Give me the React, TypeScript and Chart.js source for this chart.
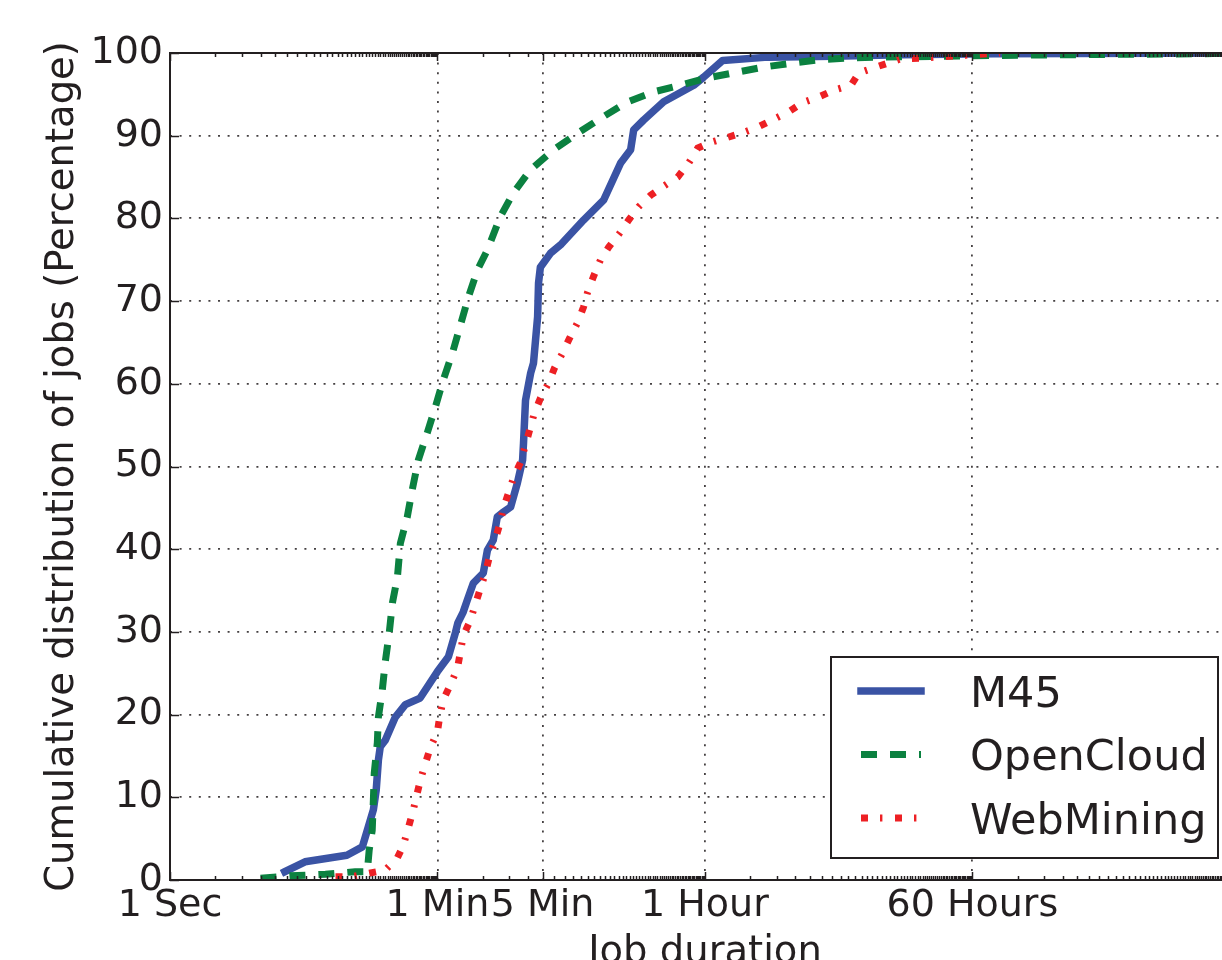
import React, { useEffect, useRef } from 'react';
import { Chart, registerables } from 'chart.js';

Chart.register(...registerables);

const FONT = '"DejaVu Sans", "Bitstream Vera Sans", sans-serif';
const INK = '#231f20';

// Job duration axis, in seconds on a log scale
const xMinSeconds = 1;
const xMaxSeconds = 1.3e7;
const majorTickSeconds = [1, 60, 300, 3600, 216000];
const majorTickLabels = ['1 Sec', '1 Min', '5 Min', '1 Hour', '60 Hours'];

// Percentage axis
const yMin = 0;
const yMax = 100;
const yStep = 10;

const xTitle = 'Job duration';
const yTitle = 'Cumulative distribution of jobs (Percentage)';

const seriesNames = ['M45', 'OpenCloud', 'WebMining'];
const seriesColors = ['#3a53a4', '#0b8140', '#ed2024'];

const m45Seconds = [5.8, 7.9, 15, 19, 20.8, 22.5, 23.5, 24.3, 25, 27, 31.5, 36.7, 46, 60, 71, 79, 82, 89, 95, 104, 121, 129, 141, 150, 162, 184, 204, 221, 224, 231, 250, 261, 278, 282, 290, 339, 400, 562, 763, 991, 1155, 1210, 1410, 1915, 3034, 3540, 4730, 9440, 25900, 72400, 300000, 13000000];
const m45Percent = [1.0, 2.2, 3.0, 4.0, 6.4, 8.5, 10.9, 14.5, 16.1, 16.9, 19.7, 21.2, 22.0, 25.2, 27.0, 29.9, 31.1, 32.4, 33.9, 35.9, 37.1, 39.9, 41.1, 43.9, 44.4, 45.1, 48.0, 50.8, 52.8, 58.0, 61.3, 62.5, 68.1, 72.2, 74.1, 75.8, 76.9, 79.8, 82.2, 86.7, 88.3, 90.7, 91.9, 94.1, 96.1, 97.1, 99.1, 99.5, 99.6, 99.8, 99.9, 100];

const openCloudSeconds = [4.0, 6.3, 10.8, 17, 20.5, 21.1, 22.1, 22.5, 22.8, 23.9, 24.3, 25.8, 27.0, 28.7, 30.1, 32.5, 34.0, 37.8, 40.8, 44.8, 51.4, 58.1, 65.7, 75.4, 85.3, 96.4, 111, 129, 157, 192, 250, 355, 513, 729, 1104, 1643, 2484, 3760, 5960, 8870, 14060, 21300, 32100, 53300, 300000, 1000000, 6800000, 13000000];
const openCloudPercent = [0.2, 0.5, 0.7, 1.0, 1.0, 3.6, 6.0, 9.7, 12.9, 16.6, 19.7, 23.0, 26.4, 29.9, 33.5, 36.6, 40.7, 43.9, 47.2, 50.8, 54.1, 57.2, 60.5, 63.7, 67.1, 70.5, 73.8, 76.2, 80.2, 83.1, 85.9, 88.3, 90.3, 92.1, 94.1, 95.3, 96.1, 97.0, 97.7, 98.3, 98.8, 99.2, 99.4, 99.5, 99.7, 99.8, 99.9, 100];

const webMiningSeconds = [12.6, 16.3, 20.8, 27.0, 32.5, 35.6, 38.4, 41.5, 46.2, 49.9, 53.8, 60, 62, 65.7, 73.1, 81.5, 89.3, 99.4, 107, 116, 125, 133, 144, 155, 165, 178, 192, 214, 231, 246, 265, 291, 329, 360, 407, 453, 513, 562, 598, 655, 729, 824, 975, 1120, 1305, 1570, 1915, 2373, 2810, 3226, 3940, 5100, 6530, 8220, 10350, 13000, 16100, 20600, 25900, 33700, 38100, 49400, 62200, 72400, 103000, 182000, 330000];
const webMiningPercent = [0.4, 0.4, 0.8, 1.2, 2.7, 4.2, 6.3, 8.5, 12.1, 14.1, 16.0, 17.9, 19.7, 21.8, 23.6, 25.6, 29.6, 31.4, 33.3, 35.3, 37.1, 39.1, 40.9, 42.9, 45.0, 46.8, 48.6, 50.5, 52.6, 54.4, 56.5, 58.3, 60.1, 61.9, 63.7, 65.5, 67.4, 69.3, 71.1, 73.0, 75.0, 76.5, 78.2, 79.8, 81.4, 82.8, 83.9, 85.0, 86.7, 88.5, 89.2, 89.8, 90.4, 91.1, 92.0, 92.9, 94.0, 94.7, 95.5, 96.1, 97.6, 98.3, 98.9, 99.3, 99.4, 99.7, 100];

const toPoints = (xs: number[], ys: number[]) => xs.map((x, i) => ({ x, y: ys[i] }));

// Minor ticks: every second up to a minute, every minute up to an hour,
// every hour up to 60 hours, then every 60 hours.
function buildMinorTicks(max: number): number[] {
  const out: number[] = [];
  for (let s = 2; s < 60; s++) out.push(s);
  for (let m = 2; m < 60; m++) if (m !== 5) out.push(m * 60);
  for (let h = 2; h < 60; h++) out.push(h * 3600);
  for (let k = 2; k * 216000 <= max; k++) out.push(k * 216000);
  return out;
}
const minorTickSeconds = buildMinorTicks(xMaxSeconds);

const axesDecor = {
  id: 'axesDecor',
  afterDraw(chart: any) {
    const { ctx, chartArea: a, scales } = chart;
    const xs = scales.x;
    const ys = scales.y;
    ctx.save();

    // inward tick marks
    ctx.strokeStyle = INK;
    ctx.lineWidth = 1.5;
    const seg = (x1: number, y1: number, x2: number, y2: number) => {
      ctx.beginPath();
      ctx.moveTo(x1, y1);
      ctx.lineTo(x2, y2);
      ctx.stroke();
    };
    for (const v of minorTickSeconds) {
      const px = Math.round(xs.getPixelForValue(v)) + 0.5;
      if (px < a.left || px > a.right) continue;
      seg(px, a.bottom, px, a.bottom - 4);
      seg(px, a.top, px, a.top + 4);
    }
    for (const v of majorTickSeconds) {
      const px = Math.round(xs.getPixelForValue(v)) + 0.5;
      seg(px, a.bottom, px, a.bottom - 8);
      seg(px, a.top, px, a.top + 8);
    }
    for (let v = yMin; v <= yMax; v += yStep) {
      const py = Math.round(ys.getPixelForValue(v)) + 0.5;
      seg(a.left, py, a.left + 9, py);
    }

    // spines
    ctx.lineWidth = 2;
    ctx.strokeRect(a.left, a.top, a.right - a.left, a.bottom - a.top);

    // axis titles
    ctx.fillStyle = INK;
    ctx.font = `38.5px ${FONT}`;
    ctx.textAlign = 'center';
    ctx.textBaseline = 'alphabetic';
    ctx.fillText(xTitle, (a.left + a.right) / 2, a.bottom + 83);
    ctx.save();
    ctx.translate(73, (a.top + a.bottom) / 2);
    ctx.rotate(-Math.PI / 2);
    ctx.fillText(yTitle, 0, 0);
    ctx.restore();

    // legend
    const boxW = 387;
    const boxH = 201;
    const bx = a.right - 22 - boxW;
    const by = a.bottom - 22 - boxH;
    ctx.fillStyle = '#ffffff';
    ctx.fillRect(bx, by, boxW, boxH);
    ctx.strokeStyle = INK;
    ctx.lineWidth = 2;
    ctx.strokeRect(bx, by, boxW, boxH);
    ctx.font = `43px ${FONT}`;
    ctx.textAlign = 'left';
    chart.data.datasets.forEach((ds: any, i: number) => {
      const rowY = by + 34 + i * 63.5;
      ctx.save();
      ctx.strokeStyle = ds.borderColor;
      ctx.lineWidth = ds.borderWidth;
      ctx.lineCap = ds.borderCapStyle || 'butt';
      ctx.setLineDash(ds.borderDash || []);
      ctx.beginPath();
      ctx.moveTo(bx + 30, rowY);
      ctx.lineTo(bx + 90, rowY);
      ctx.stroke();
      ctx.restore();
      ctx.fillStyle = INK;
      ctx.fillText(ds.label, bx + 139, rowY + 15.6);
    });

    ctx.restore();
  },
};

export default function App() {
  const canvasRef = useRef<HTMLCanvasElement | null>(null);

  useEffect(() => {
    const canvas = canvasRef.current;
    if (!canvas) return;
    const tickFont = { family: FONT, size: 38 };
    const chart = new Chart(canvas, {
      type: 'line',
      data: {
        datasets: [
          {
            label: seriesNames[0],
            data: toPoints(m45Seconds, m45Percent),
            borderColor: seriesColors[0],
            borderWidth: 7.5,
            borderCapStyle: 'square',
            borderJoinStyle: 'round',
            order: 2,
            clip: 0,
          },
          {
            label: seriesNames[1],
            data: toPoints(openCloudSeconds, openCloudPercent),
            borderColor: seriesColors[1],
            borderWidth: 7,
            borderDash: [16, 13],
            borderCapStyle: 'butt',
            order: 1,
            clip: 0,
          },
          {
            label: seriesNames[2],
            data: toPoints(webMiningSeconds, webMiningPercent),
            borderColor: seriesColors[2],
            borderWidth: 7,
            borderDash: [7, 12, 2.4, 12.6],
            borderCapStyle: 'butt',
            order: 0,
            clip: 0,
          },
        ] as any,
      },
      options: {
        animation: false,
        responsive: false,
        devicePixelRatio: 1,
        layout: { padding: { top: 53, right: 22, bottom: 0, left: 0 } },
        plugins: { legend: { display: false }, tooltip: { enabled: false } },
        elements: { point: { radius: 0 }, line: { tension: 0, fill: false } },
        scales: {
          x: {
            type: 'logarithmic',
            min: xMinSeconds,
            max: xMaxSeconds,
            afterBuildTicks: (scale: any) => {
              scale.ticks = majorTickSeconds.map((v) => ({ value: v }));
            },
            afterFit: (scale: any) => {
              scale.height = 120;
            },
            ticks: {
              autoSkip: false,
              maxRotation: 0,
              minRotation: 0,
              padding: 3,
              color: INK,
              font: tickFont,
              callback: (value: any) => {
                const i = majorTickSeconds.indexOf(Number(value));
                return i >= 0 ? majorTickLabels[i] : '';
              },
            },
            grid: { color: 'rgba(35,31,32,0.85)', lineWidth: 1.8, drawTicks: false },
            border: { display: false, dash: [2, 7.6] },
          },
          y: {
            type: 'linear',
            min: yMin,
            max: yMax,
            afterFit: (scale: any) => {
              scale.width = 170;
            },
            ticks: {
              stepSize: yStep,
              padding: 7,
              color: INK,
              font: tickFont,
              callback: (value: any) => String(value),
            },
            grid: { color: 'rgba(35,31,32,0.85)', lineWidth: 1.8, drawTicks: false },
            border: { display: false, dash: [2, 7.6] },
          },
        },
      } as any,
      plugins: [axesDecor],
    });
    return () => chart.destroy();
  }, []);

  return (
    <div
      style={{
        position: 'fixed',
        left: 0,
        top: 0,
        width: 1222,
        height: 960,
        overflow: 'hidden',
        background: '#ffffff',
      }}
    >
      <canvas
        ref={canvasRef}
        width={1262}
        height={1000}
        style={{ display: 'block', width: 1262, height: 1000 }}
      />
    </div>
  );
}
